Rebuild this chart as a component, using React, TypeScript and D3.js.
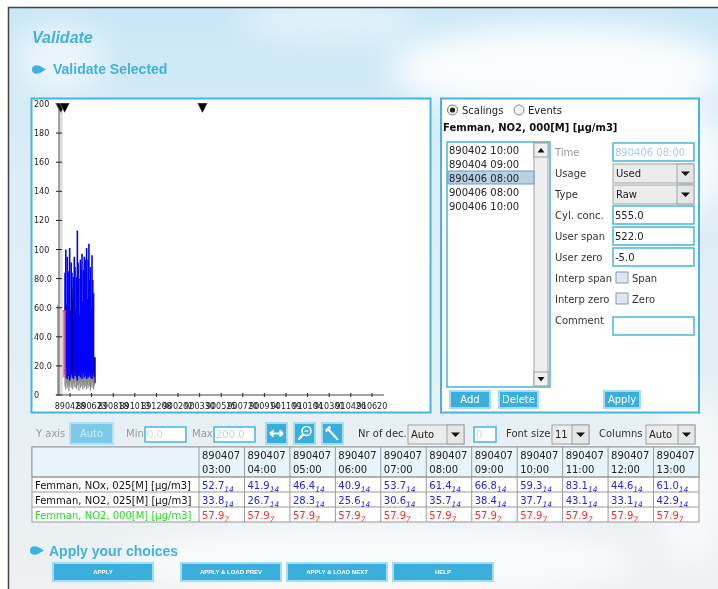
import React, { useEffect, useRef } from "react";
import * as d3 from "d3";

// scalings shown in the list and as markers on the chart
const scalingTimes = ["890402 10:00", "890404 09:00", "890406 08:00", "900406 08:00", "900406 10:00"];

// axes
const yTickValues = [0, 20, 40, 60, 80, 100, 120, 140, 160, 180, 200];
const yTickLabels = ["0", "20.0", "40.0", "60.0", "80.0", "100", "120", "140", "160", "180", "200"];
const xTickLabels = [
  "890428", "890623", "890818", "891013", "891208", "900202", "900330", "900525",
  "900720", "900914", "901109", "910104", "910301", "910426", "910620",
];

// hourly data summarised every second day from 890415
const seriesStart = "890415";
const noxHigh = [84, 100, 62, 95, 70, 85, 101, 58, 91, 84, 65, 81, 95, 88, 60, 81, 113, 91, 80, 55, 93, 86, 97, 64, 86, 95, 72, 93, 101, 66, 93, 104, 79, 88, 60, 96, 79, 70, 26];
const noxLow = [14, 12, 16, 11, 13, 15, 10, 12, 14, 17, 12, 11, 15, 13, 16, 12, 10, 14, 13, 15, 12, 17, 11, 14, 16, 12, 13, 15, 11, 14, 12, 13, 16, 12, 14, 11, 13, 15, 12];
const no2Low = [6, 4, 8, 5, 7, 3, 6, 9, 5, 7, 4, 8, 6, 5, 9, 4, 7, 6, 3, 8, 5, 6, 9, 4, 7, 5, 8, 6, 4, 7, 5, 9, 6, 3, 7, 5, 8, 4, 6];
// NO2 000 level and its band
const refLevel = 57.9;
const refFrom = "890409";
const refTo = "890417";
const refLow = 12;
// dark single hours
const markerDates = ["890503", "890702"];
const markerLow = [16, 8];
const markerHigh = [73, 26];
const earlyDate = "890327";
const earlyHigh = 62;
const bandFrom = "890402";
const bandTo = "890409";

// table
const tableDate = "890407";
const hours = ["03:00", "04:00", "05:00", "06:00", "07:00", "08:00", "09:00", "10:00", "11:00", "12:00", "13:00"];
const rowLabels = ["Femman, NOx, 025[M] [µg/m3]", "Femman, NO2, 025[M] [µg/m3]", "Femman, NO2, 000[M] [µg/m3]"];
const noxValues = [52.7, 41.9, 46.4, 40.9, 53.7, 61.4, 66.8, 59.3, 83.1, 44.6, 61.0];
const no2Values = [33.8, 26.7, 28.3, 25.6, 30.6, 35.7, 38.4, 37.7, 43.1, 33.1, 42.9];
const refValues = [57.9, 57.9, 57.9, 57.9, 57.9, 57.9, 57.9, 57.9, 57.9, 57.9, 57.9];
const rowFlags = ["14", "14", "7"];

// scaling form
const formLabels = ["Time", "Usage", "Type", "Cyl. conc.", "User span", "User zero", "Interp span", "Interp zero", "Comment"];
const formValues = ["890406 08:00", "Used", "Raw", "555.0", "522.0", "-5.0", "Span", "Zero", ""];
const formKinds = ["time", "select", "select", "input", "input", "input", "check", "check", "input"];

const bottomButtons = ["APPLY", "APPLY & LOAD PREV", "APPLY & LOAD NEXT", "HELP"];

const UI = "DejaVu Sans, sans-serif";
const HEAD = "Liberation Sans, Arial, sans-serif";
const BLUE = "#3bafdc";
const BORDER = "#45b5e0";

function Chart() {
  const ref = useRef<SVGGElement>(null);

  useEffect(() => {
    const g = d3.select(ref.current);
    g.selectAll("*").remove();
    const parse = d3.timeParse("%y%m%d");
    const parseT = d3.timeParse("%y%m%d %H:%M");

    const x = d3.scaleTime().domain([parse("890402"), parse("910620")]).range([60, 372]);
    const y = d3.scaleLinear().domain([0, 200]).range([395, 104]);

    // highlighted scaling period
    g.append("rect")
      .attr("x", x(parse(bandFrom)))
      .attr("y", y(200))
      .attr("width", x(parse(bandTo)) - x(parse(bandFrom)))
      .attr("height", y(0) - y(200))
      .style("fill", "#dcdcdc");

    g.append("line")
      .attr("x1", x(parse(earlyDate))).attr("x2", x(parse(earlyDate)))
      .attr("y1", y(0)).attr("y2", y(earlyHigh))
      .style("stroke", "#aaaaaa").style("stroke-width", 1.5);

    const dates = noxHigh.map((_, i) => d3.timeDay.offset(parse(seriesStart), i * 2));

    g.selectAll(".gray").data(dates).join("line").attr("class", "gray")
      .attr("x1", (d) => x(d)).attr("x2", (d) => x(d))
      .attr("y1", (d, i) => y(no2Low[i])).attr("y2", (d, i) => y(noxLow[i] + 4))
      .style("stroke", "#8a8a8a").style("stroke-width", 1.2);

    g.selectAll(".blue").data(dates).join("line").attr("class", "blue")
      .attr("x1", (d) => x(d)).attr("x2", (d) => x(d))
      .attr("y1", (d, i) => y(noxLow[i])).attr("y2", (d, i) => y(noxHigh[i]))
      .style("stroke", "#0000ff").style("stroke-width", 1.6);

    // NO2 000 level
    g.append("rect")
      .attr("x", x(parse(refFrom)))
      .attr("y", y(refLevel))
      .attr("width", x(parse(refTo)) - x(parse(refFrom)))
      .attr("height", y(refLow) - y(refLevel))
      .style("fill", "#f06a6a").style("opacity", 0.8);
    g.append("line")
      .attr("x1", x(parse(refFrom))).attr("x2", x(parse(refTo)) + 1)
      .attr("y1", y(refLevel)).attr("y2", y(refLevel))
      .style("stroke", "#ff2020").style("stroke-width", 1);

    g.selectAll(".mark").data(markerDates).join("line").attr("class", "mark")
      .attr("x1", (d) => x(parse(d))).attr("x2", (d) => x(parse(d)))
      .attr("y1", (d, i) => y(markerLow[i])).attr("y2", (d, i) => y(markerHigh[i]))
      .style("stroke", "#111").style("stroke-width", 1.2);

    // y axis
    g.append("line").attr("x1", 59).attr("x2", 59).attr("y1", y(200)).attr("y2", y(0))
      .style("stroke", "#444").style("stroke-width", 1);
    g.selectAll(".ytick").data(yTickValues).join("line").attr("class", "ytick")
      .attr("x1", 56).attr("x2", 62).attr("y1", (d) => y(d)).attr("y2", (d) => y(d))
      .style("stroke", "#222");
    g.selectAll(".ylab").data(yTickValues).join("text").attr("class", "ylab")
      .attr("x", 34).attr("y", (d) => y(d) + 3)
      .style("font", `8px ${UI}`).style("fill", "#222")
      .text((d, i) => yTickLabels[i]);

    // x axis
    g.append("line")
      .attr("x1", x(parse("890322"))).attr("x2", x(parse("910721")))
      .attr("y1", y(0)).attr("y2", y(0))
      .style("stroke", "#444");
    g.selectAll(".xtick").data(xTickLabels).join("line").attr("class", "xtick")
      .attr("x1", (d) => x(parse(d))).attr("x2", (d) => x(parse(d)))
      .attr("y1", y(0) - 2).attr("y2", y(0) + 2)
      .style("stroke", "#222");
    g.selectAll(".xlab").data(xTickLabels).join("text").attr("class", "xlab")
      .attr("x", (d) => x(parse(d))).attr("y", 409)
      .attr("text-anchor", "middle")
      .style("font", `8px ${UI}`).style("fill", "#222")
      .text((d) => d);

    // scaling markers
    g.selectAll(".tri").data(scalingTimes).join("path").attr("class", "tri")
      .attr("d", (d, i) => {
        const cx = x(parseT(d)) + (i === 2 ? 3 : 0);
        return `M${cx - 5},103 L${cx + 5},103 L${cx},113 Z`;
      })
      .style("fill", "#000").style("stroke", "#fff").style("stroke-width", 0.4);
  }, []);

  return <g ref={ref} />;
}

function Bullet({ x, y }: { x: number; y: number }) {
  return (
    <path
      d={`M${x},${y} C${x},${y - 4.5} ${x + 5},${y - 5} ${x + 8},${y - 3.5} L${x + 14},${y} L${x + 8},${y + 3.5} C${x + 5},${y + 5} ${x},${y + 4.5} ${x},${y} Z`}
      fill="#3db2de"
    />
  );
}

function Button({ x, y, w, h, label, size = 10, bold = false }: any) {
  return (
    <g>
      <rect x={x} y={y} width={w} height={h} fill={BLUE} stroke="#a6dcf1" strokeWidth={2} />
      <text x={x + w / 2} y={y + h / 2 + size * 0.36} textAnchor="middle" fill="#fff"
        style={{ font: `${bold ? "bold " : ""}${size}px ${bold ? HEAD : UI}` }}>{label}</text>
    </g>
  );
}

function Dropdown({ x, y, w, h, label }: any) {
  return (
    <g>
      <rect x={x} y={y} width={w} height={h} fill="#ececec" stroke="#9aa3aa" />
      <rect x={x + w - 17} y={y} width={17} height={h} fill="#e6e6e6" stroke="#9aa3aa" />
      <path d={`M${x + w - 13},${y + h / 2 - 2} L${x + w - 4},${y + h / 2 - 2} L${x + w - 8.5},${y + h / 2 + 2.5} Z`} fill="#111" />
      <text x={x + 3} y={y + h / 2 + 3.5} style={{ font: `10px ${UI}` }} fill="#222">{label}</text>
    </g>
  );
}

function Field({ x, y, w, h, label, color = "#222" }: any) {
  return (
    <g>
      <rect x={x} y={y} width={w} height={h} fill="#fff" stroke={BORDER} strokeWidth={1.5} />
      <text x={x + 2} y={y + h / 2 + 3.5} style={{ font: `10px ${UI}` }} fill={color}>{label}</text>
    </g>
  );
}

function Table() {
  const col = d3.scaleBand().domain(hours).range([199, 699]);
  const rows = [noxValues, no2Values, refValues];
  const rowY = d3.scaleBand().domain(rowLabels).range([477, 522]);
  const valueColor = ["#2424ee", "#2424ee", "#ff2a2a"];
  const labelColor = ["#111", "#111", "#22e022"];
  return (
    <g style={{ font: `10px ${UI}` }}>
      <rect x={32} y={447} width={667} height={75} fill="#fff" stroke="#999" />
      <rect x={32} y={447} width={667} height={30} fill="#e7f4fa" stroke="#999" />
      {rowLabels.map((r) => (
        <line key={r} x1={32} x2={699} y1={rowY(r)} y2={rowY(r)} stroke="#999" />
      ))}
      {hours.map((hh) => (
        <g key={hh}>
          <line x1={col(hh)} x2={col(hh)} y1={447} y2={522} stroke="#999" />
          <text x={col(hh)! + 3} y={458.5} fill="#222">{tableDate}</text>
          <text x={col(hh)! + 3} y={473} fill="#222">{hh}</text>
        </g>
      ))}
      <rect x={col("08:00")! + 0.5} y={rowY(rowLabels[2])! + 0.5} width={col.bandwidth() - 1} height={rowY.bandwidth() - 1}
        fill="none" stroke="#c4c4c4" />
      {rowLabels.map((r, ri) => (
        <g key={r}>
          <text x={35} y={rowY(r)! + 12} fill={labelColor[ri]}>{r}</text>
          {rows[ri].map((v, i) => (
            <text key={i} x={col(hours[i])! + 3} y={rowY(r)! + 12} fill={valueColor[ri]}>
              {v.toFixed(1)}
              <tspan dy={2.5} style={{ font: `italic 7.5px ${UI}` }}>{rowFlags[ri]}</tspan>
            </text>
          ))}
        </g>
      ))}
    </g>
  );
}

function ScalingPanel() {
  const rowTop = d3.scaleLinear().domain([0, 1]).range([142, 163]);
  return (
    <g style={{ font: `10px ${UI}` }}>
      <rect x={441} y={98.5} width={258} height={314} fill="#fff" stroke={BORDER} strokeWidth={2} />
      <circle cx={452.5} cy={110} r={5} fill="#f4f4f4" stroke="#777" />
      <circle cx={452.5} cy={110} r={2.6} fill="#222" />
      <text x={462} y={113.5} fill="#222">Scalings</text>
      <circle cx={519} cy={110} r={5} fill="#f4f4f4" stroke="#888" />
      <text x={528} y={113.5} fill="#222">Events</text>
      <text x={443} y={131} fill="#111" style={{ font: `bold 10px ${UI}` }}>Femman, NO2, 000[M] [µg/m3]</text>

      <rect x={447} y={142} width={103} height={245} fill="#fff" stroke={BORDER} strokeWidth={1.5} />
      <rect x={534} y={143} width={14} height={243} fill="#eeeeee" stroke="#a0a0a0" />
      <rect x={534} y={143} width={14} height={14} fill="#f0f0f0" stroke="#a0a0a0" />
      <path d="M537.5,152.5 L544.5,152.5 L541,148 Z" fill="#111" />
      <rect x={534} y={372} width={14} height={14} fill="#f0f0f0" stroke="#a0a0a0" />
      <path d="M537.5,377 L544.5,377 L541,381.5 Z" fill="#111" />
      <rect x={448} y={171} width={86} height={13} fill="#b9cfe6" stroke="#7097c2" />
      {scalingTimes.map((t, i) => (
        <text key={t} x={449} y={154 + i * 14} fill="#222">{t}</text>
      ))}

      {formLabels.map((lab, i) => {
        const top = rowTop(i);
        const kind = formKinds[i];
        return (
          <g key={lab}>
            <text x={555} y={top + 14} fill={kind === "time" ? "#999" : "#333"}>{lab}</text>
            {kind === "time" && <Field x={613} y={top + 1} w={81} h={18} label={formValues[i]} color="#a9cbe6" />}
            {kind === "select" && <Dropdown x={613} y={top + 1} w={81} h={19} label={formValues[i]} />}
            {kind === "input" && <Field x={613} y={top + (i === 8 ? 7 : 1)} w={81} h={18} label={formValues[i]} />}
            {kind === "check" && (
              <g>
                <rect x={616} y={top + 4} width={12} height={11} fill="#dde7f1" stroke="#8a9cad" />
                <text x={632} y={top + 14} fill="#333">{formValues[i]}</text>
              </g>
            )}
          </g>
        );
      })}

      <Button x={450} y={391} w={40} h={17} label="Add" />
      <Button x={499} y={391} w={39} h={17} label="Delete" />
      <Button x={604} y={391} w={36} h={17} label="Apply" />
    </g>
  );
}

function Toolbar() {
  return (
    <g style={{ font: `10px ${UI}` }}>
      <text x={36} y={437} fill="#9a9a9a">Y axis</text>
      <rect x={70} y={423} width={43} height={21} fill="#7cc9e8" stroke="#b6e1f3" strokeWidth={2} />
      <text x={91.5} y={437} textAnchor="middle" fill="#c8ecf8">Auto</text>
      <text x={126} y={437} fill="#9a9a9a">Min</text>
      <Field x={145} y={427} w={41} h={15} label="0.0" color="#c5dcea" />
      <text x={192} y={437} fill="#9a9a9a">Max</text>
      <Field x={214} y={427} w={41} h={15} label="200.0" color="#b9d6ea" />

      <rect x={266} y={423} width={21} height={21} fill={BLUE} stroke="#a6dcf1" strokeWidth={2} />
      <path d="M270,433.5 L283,433.5 M270,433.5 L273.5,430.5 M270,433.5 L273.5,436.5 M283,433.5 L279.5,430.5 M283,433.5 L279.5,436.5"
        stroke="#fff" strokeWidth={2} fill="none" />
      <rect x={294} y={423} width={21} height={21} fill={BLUE} stroke="#a6dcf1" strokeWidth={2} />
      <circle cx={306.5} cy={431} r={4.5} fill="none" stroke="#fff" strokeWidth={1.5} />
      <path d="M304.5,431 L308.5,431" stroke="#fff" strokeWidth={1.2} />
      <path d="M303,434.5 L298.5,439.5" stroke="#fff" strokeWidth={2.5} />
      <rect x={322} y={423} width={21} height={21} fill={BLUE} stroke="#a6dcf1" strokeWidth={2} />
      <path d="M326,429 L329,426 L331,427 L330,429.5 L338.5,439 L337,440.5 L328.5,431 L326,432 L325,430 Z" fill="#fff" />

      <text x={358} y={437} fill="#333">Nr of dec.</text>
      <Dropdown x={408} y={425} w={56} h={19} label="Auto" />
      <Field x={474} y={427} w={22} h={15} label="0" color="#c5dcea" />
      <text x={506} y={437} fill="#333">Font size</text>
      <Dropdown x={552} y={425} w={37} h={19} label="11" />
      <text x={599} y={437} fill="#333">Columns</text>
      <Dropdown x={646} y={425} w={49} h={19} label="Auto" />
    </g>
  );
}

export default function App() {
  return (
    <svg width={718} height={589} style={{ position: "absolute", left: 0, top: 0 }}>
      <defs>
        <linearGradient id="sky" x1="0" y1="0" x2="0" y2="1">
          <stop offset="0" stopColor="#c9e7f7" />
          <stop offset="0.3" stopColor="#dcedf6" />
          <stop offset="1" stopColor="#eef1f3" />
        </linearGradient>
        <filter id="blur" x="-50%" y="-50%" width="200%" height="200%">
          <feGaussianBlur stdDeviation="16" />
        </filter>
      </defs>
      <rect width={718} height={589} fill="#fff" />
      <rect x={8} y={7} width={710} height={582} fill="url(#sky)" />
      <g filter="url(#blur)" fill="#fff">
        <ellipse cx={560} cy={70} rx={170} ry={45} opacity={0.9} />
        <ellipse cx={660} cy={160} rx={70} ry={60} opacity={0.8} />
        <ellipse cx={60} cy={60} rx={45} ry={35} opacity={0.6} />
        <ellipse cx={330} cy={20} rx={90} ry={20} opacity={0.5} />
        <ellipse cx={380} cy={560} rx={260} ry={35} opacity={0.7} />
        <ellipse cx={690} cy={480} rx={40} ry={90} opacity={0.6} />
      </g>
      <path d="M8.5,589 L8.5,7.5 L718,7.5" fill="none" stroke="#444" strokeWidth={1.5} />

      <text x={32} y={43} fill="#44b0de" style={{ font: `italic bold 16px ${HEAD}` }}>Validate</text>
      <Bullet x={32} y={69.5} />
      <text x={53} y={74} fill="#44b0de" style={{ font: `bold 14px ${HEAD}` }}>Validate Selected</text>

      <rect x={31.5} y={98.5} width={399} height={314} fill="#fff" stroke={BORDER} strokeWidth={2} />
      <Chart />
      <ScalingPanel />
      <Toolbar />
      <Table />

      <Bullet x={30} y={550.5} />
      <text x={49} y={556} fill="#44b0de" style={{ font: `bold 14px ${HEAD}` }}>Apply your choices</text>
      {bottomButtons.map((b, i) => (
        <Button key={b} x={[53, 181, 287, 393][i]} y={563} w={100} h={18} label={b} size={6} bold />
      ))}
    </svg>
  );
}
